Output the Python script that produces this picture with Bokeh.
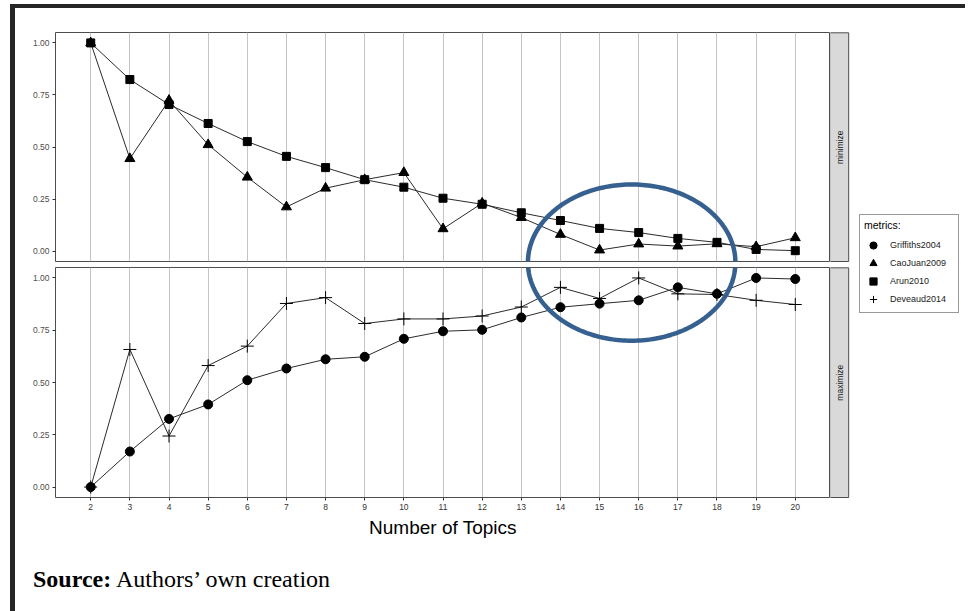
import numpy as np
from bokeh.plotting import figure
from bokeh.models import (Range1d, FixedTicker, PrintfTickFormatter, Grid, Legend,
                          LegendItem, PolyAnnotation, LinearAxis, Div)
from bokeh.layouts import row, column
from bokeh.core.properties import value
from bokeh.embed import file_html
from bokeh.resources import INLINE

# ---------------- data ----------------
topics = list(range(2, 21))
griffiths2004 = [0.000, 0.170, 0.326, 0.395, 0.511, 0.567, 0.611, 0.623, 0.709, 0.745,
                 0.752, 0.811, 0.860, 0.877, 0.893, 0.955, 0.924, 1.000, 0.995]
caojuan2009 = [1.000, 0.444, 0.724, 0.511, 0.355, 0.212, 0.302, 0.343, 0.377, 0.107,
               0.230, 0.161, 0.080, 0.005, 0.034, 0.024, 0.035, 0.021, 0.064]
arun2010 = [1.000, 0.824, 0.704, 0.613, 0.526, 0.455, 0.401, 0.343, 0.307, 0.254,
            0.225, 0.184, 0.147, 0.109, 0.089, 0.061, 0.042, 0.008, 0.002]
deveaud2014 = [0.000, 0.658, 0.244, 0.581, 0.674, 0.878, 0.906, 0.782, 0.804, 0.804,
               0.818, 0.861, 0.955, 0.902, 1.000, 0.924, 0.921, 0.893, 0.873]
y_ticks = [0.0, 0.25, 0.5, 0.75, 1.0]
panel_names = ["minimize", "maximize"]
legend_title = "metrics:"
x_title = "Number of Topics"
source_bold = "Source:"
source_rest = "Authors\u2019 own creation"

# ---------------- style ----------------
FONT = "Liberation Sans"
LINE_C = "#2b2b2b"
GRID_C = "#C4C4C4"
FRAME_C = "#4D4D4D"
ELL_C = "#36608F"

xr = Range1d(1.1, 20.9)


def base_fig(height, border_top, border_bottom):
    p = figure(width=815, height=height, x_range=xr, y_range=Range1d(-0.05, 1.05),
               x_axis_type=None, output_backend="svg", toolbar_location=None,
               min_border_left=40, min_border_right=0, min_border_top=border_top,
               min_border_bottom=border_bottom, background_fill_color="white",
               border_fill_color="white", outline_line_color=FRAME_C, outline_line_width=1)
    p.ygrid.visible = False
    p.add_layout(Grid(dimension=0, ticker=FixedTicker(ticks=topics),
                      grid_line_color=GRID_C, grid_line_width=1))
    ax = p.yaxis[0]
    ax.ticker = FixedTicker(ticks=y_ticks)
    ax.formatter = PrintfTickFormatter(format="%.2f")
    ax.axis_line_color = None
    ax.major_tick_out = 3
    ax.major_tick_in = 0
    ax.minor_tick_out = 0
    ax.minor_tick_in = 0
    ax.major_tick_line_color = "#333333"
    ax.major_label_standoff = 3
    ax.major_label_text_font = FONT
    ax.major_label_text_font_size = "8.5px"
    ax.major_label_text_color = "#4D4D4D"
    return p


p_top = base_fig(256, 24, 3)
p_bot = base_fig(278, 3, 45)

# x axis on bottom panel
xax = LinearAxis(ticker=FixedTicker(ticks=topics))
xax.axis_line_color = None
xax.major_tick_out = 3
xax.major_tick_in = 0
xax.minor_tick_out = 0
xax.minor_tick_in = 0
xax.major_tick_line_color = "#333333"
xax.major_label_standoff = 3
xax.major_label_text_font = FONT
xax.major_label_text_font_size = "8.5px"
xax.major_label_text_color = "#333333"
xax.axis_label = x_title
xax.axis_label_text_font = FONT
xax.axis_label_text_font_style = "normal"
xax.axis_label_text_font_size = "19px"
xax.axis_label_text_color = "black"
xax.axis_label_standoff = 4
p_bot.add_layout(xax, "below")

# top panel: minimize
for ys in (caojuan2009, arun2010):
    p_top.line(topics, ys, line_color=LINE_C, line_width=1)
p_top.scatter(topics, caojuan2009, marker="triangle", size=10, color="black")
p_top.scatter(topics, arun2010, marker="square", size=8, color="black")

# bottom panel: maximize
for ys in (griffiths2004, deveaud2014):
    p_bot.line(topics, ys, line_color=LINE_C, line_width=1)
p_bot.scatter(topics, griffiths2004, marker="circle", size=9, color="black")
p_bot.scatter(topics, deveaud2014, marker="cross", size=13, line_color="black", line_width=1)

# highlighting ellipse (drawn across both panels)
t = np.linspace(0, 2 * np.pi, 241)
ecx, eax = 15.82, 2.65
eay = 0.374
for p, ecy in ((p_top, -0.054), (p_bot, 1.074)):
    p.add_layout(PolyAnnotation(xs=list(ecx + eax * np.cos(t)), ys=list(ecy + eay * np.sin(t)),
                                fill_alpha=0, line_color=ELL_C, line_alpha=1.0, line_width=4.5))

# source line
src = Div(text=('<div style="font-family: \'Liberation Serif\', serif; font-size: 24px; '
                'line-height: 1.15; color: black; padding: 24px 0 0 18px; white-space: nowrap;">'
                '<b>%s</b> %s</div>' % (source_bold, source_rest)),
          width=815, height=61, margin=0)

# right column: strips + legend
p_r = figure(width=135, height=595, x_range=Range1d(830, 965), y_range=Range1d(603, 8),
             x_axis_type=None, y_axis_type=None, output_backend="svg", toolbar_location=None,
             min_border=0, outline_line_color=None, background_fill_color="white",
             border_fill_color="white")
p_r.quad(left=[829.5, 829.5], right=[848.2, 848.2], top=[32.3, 267.3], bottom=[261.0, 497.0],
         fill_color="#D9D9D9", line_color=FRAME_C, line_width=1)
p_r.text(x=[839.5, 839.5], y=[146.7, 382.2], text=panel_names, angle=np.pi / 2,
         text_align="center", text_baseline="middle", text_font=value(FONT),
         text_font_size="8.5px", text_color="#1A1A1A")

r1 = p_r.scatter([0], [0], marker="circle", size=9, color="black")
r2 = p_r.scatter([0], [0], marker="triangle", size=10, color="black")
r3 = p_r.scatter([0], [0], marker="square", size=8, color="black")
r4 = p_r.scatter([0], [0], marker="cross", size=13, line_color="black")
legend = Legend(items=[LegendItem(label="Griffiths2004", renderers=[r1]),
                       LegendItem(label="CaoJuan2009", renderers=[r2]),
                       LegendItem(label="Arun2010", renderers=[r3]),
                       LegendItem(label="Deveaud2014", renderers=[r4])],
                location=(29, 290), title=legend_title,
                title_text_font=FONT, title_text_font_style="normal", title_text_font_size="10.5px",
                title_text_color="black", title_standoff=5,
                label_text_font=FONT, label_text_font_size="9px", label_text_color="#1A1A1A",
                label_standoff=8, glyph_height=18, glyph_width=18, label_height=18, label_width=64,
                spacing=0, padding=4, margin=0, border_line_color="#333333", border_line_width=1,
                background_fill_color="white", background_fill_alpha=1)
p_r.add_layout(legend)

root = row(column(p_top, p_bot, src), p_r,
           styles={"border-left": "5px solid #262626", "border-top": "4px solid #262626",
                   "margin-left": "10px", "margin-top": "4px", "padding-bottom": "8px"})

open("out.html", "w").write(file_html(root, INLINE))
